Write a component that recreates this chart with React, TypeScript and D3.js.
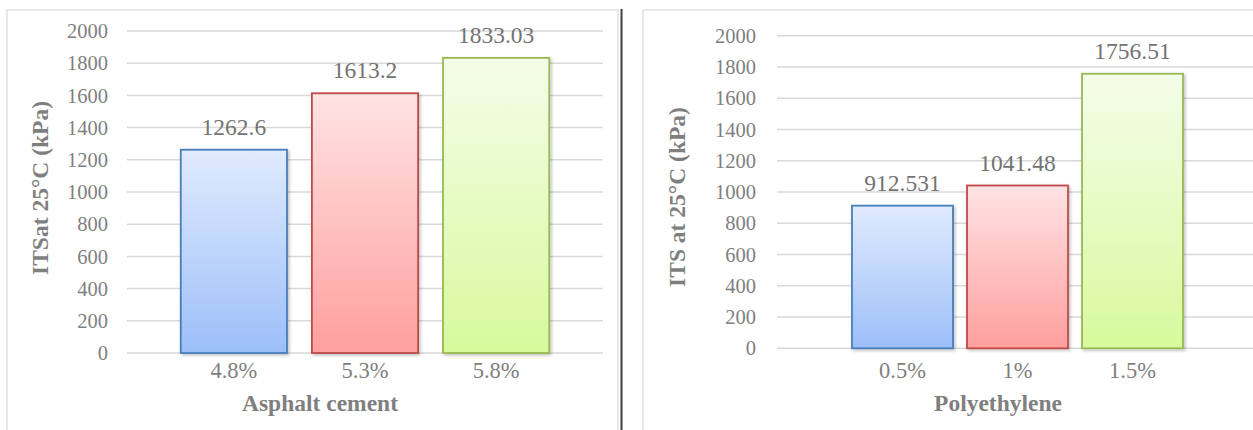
import React from 'react';
import * as d3 from 'd3';

const asphaltCategories = ['4.8%', '5.3%', '5.8%'];
const asphaltValues = [1262.6, 1613.2, 1833.03];
const peCategories = ['0.5%', '1%', '1.5%'];
const peValues = [912.531, 1041.48, 1756.51];
const yTicks = [0, 200, 400, 600, 800, 1000, 1200, 1400, 1600, 1800, 2000];

const fills = [
  { id: 'blue', top: '#e0ebfd', bottom: '#9cbff9', stroke: '#4a7ebb' },
  { id: 'red', top: '#ffe3e4', bottom: '#ff9f9e', stroke: '#be4b48' },
  { id: 'green', top: '#f4fde9', bottom: '#d8f99d', stroke: '#98b954' },
];

const FONT = '"Liberation Serif", "Times New Roman", serif';

type PanelProps = {
  categories: string[];
  values: number[];
  xTitle: string;
  yTitle: string;
  gridX: [number, number];
  yRange: [number, number];
  padInner: number;
  padOuter: number;
  tickX: number;
  yTitleX: number;
  yTitleY: number;
  xTitleX: number;
};

const Panel = (p: PanelProps) => {
  const x = d3.scaleBand<string>()
    .domain(p.categories)
    .range(p.gridX)
    .paddingInner(p.padInner)
    .paddingOuter(p.padOuter);
  const y = d3.scaleLinear().domain([0, 2000]).range(p.yRange);

  return (
    <g fontFamily={FONT}>
      {yTicks.map(t => (
        <g key={t}>
          <line x1={p.gridX[0]} x2={p.gridX[1]} y1={y(t)} y2={y(t)} stroke="#d9d9d9" strokeWidth={1.5} />
          <text x={p.tickX} y={y(t)} dy="0.35em" textAnchor="end" fontSize={20.5} fill="#7f7f7f">{t}</text>
        </g>
      ))}
      {p.values.map((v, i) => {
        const c = p.categories[i];
        const cx = (x(c) ?? 0) + x.bandwidth() / 2;
        return (
          <g key={c}>
            <rect
              x={x(c)}
              y={y(v)}
              width={x.bandwidth()}
              height={y(0) - y(v)}
              fill={`url(#grad-${fills[i].id})`}
              stroke={fills[i].stroke}
              strokeWidth={1.8}
              filter="url(#shadow)"
            />
            <text x={cx} y={y(v) - 15} textAnchor="middle" fontSize={23.5} fill="#737373">{v}</text>
            <text x={cx} y={378} textAnchor="middle" fontSize={22.5} fill="#7f7f7f">{c}</text>
          </g>
        );
      })}
      <text x={p.xTitleX} y={411} textAnchor="middle" fontSize={23.5} fontWeight="bold" fill="#7f7f7f">{p.xTitle}</text>
      <text
        transform={`translate(${p.yTitleX},${p.yTitleY}) rotate(-90)`}
        dy="0.35em"
        textAnchor="middle"
        fontSize={23.5}
        fontWeight="bold"
        fill="#7f7f7f"
      >
        {p.yTitle}
      </text>
    </g>
  );
};

export default function App() {
  return (
    <div style={{ position: 'absolute', left: 0, top: 0 }}>
      <svg width={1253} height={430} style={{ display: 'block', background: '#fff' }}>
        <defs>
          {fills.map(f => (
            <linearGradient key={f.id} id={`grad-${f.id}`} x1="0" y1="0" x2="0" y2="1">
              <stop offset="0%" stopColor={f.top} />
              <stop offset="100%" stopColor={f.bottom} />
            </linearGradient>
          ))}
          <filter id="shadow" x="-10%" y="-10%" width="130%" height="130%">
            <feDropShadow dx={1.5} dy={1.5} stdDeviation={1.5} floodColor="#000" floodOpacity={0.25} />
          </filter>
        </defs>

        {/* panel frames */}
        <rect x={7} y={10} width={611} height={440} fill="none" stroke="#d9d9d9" strokeWidth={1.2} />
        <rect x={643} y={10} width={640} height={440} fill="none" stroke="#d9d9d9" strokeWidth={1.2} />
        <line x1={621.5} x2={621.5} y1={9} y2={430} stroke="#404040" strokeWidth={2} />

        <Panel
          categories={asphaltCategories}
          values={asphaltValues}
          xTitle="Asphalt cement"
          yTitle="ITSat 25°C (kPa)"
          gridX={[127, 603]}
          yRange={[353, 31]}
          padInner={0.19}
          padOuter={0.41}
          tickX={108}
          yTitleX={40}
          yTitleY={188}
          xTitleX={320}
        />
        <Panel
          categories={peCategories}
          values={peValues}
          xTitle="Polyethylene"
          yTitle="ITS at 25°C (kPa)"
          gridX={[777, 1258]}
          yRange={[348.3, 35.7]}
          padInner={0.122}
          padOuter={0.652}
          tickX={756}
          yTitleX={677}
          yTitleY={197}
          xTitleX={998}
        />
      </svg>
    </div>
  );
}
